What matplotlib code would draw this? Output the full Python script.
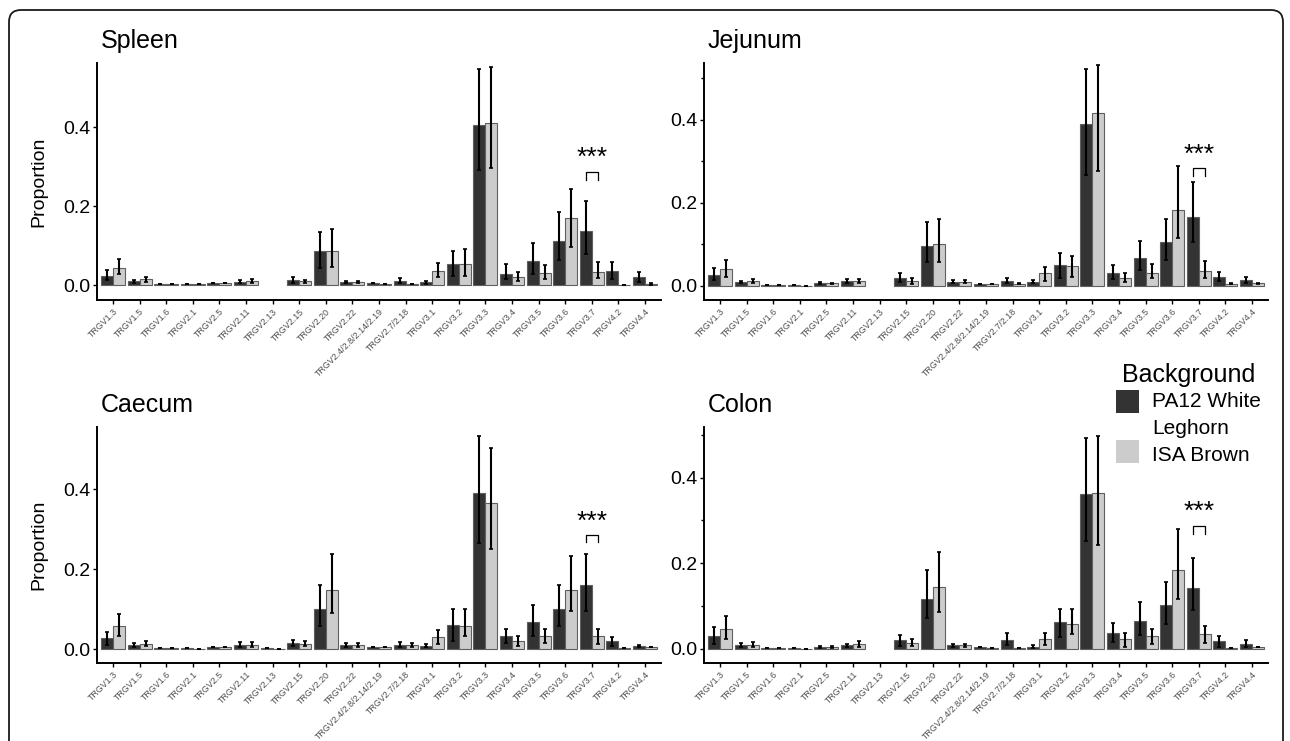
import numpy as np
import matplotlib.pyplot as plt
from matplotlib.patches import FancyBboxPatch, Rectangle
from matplotlib.transforms import IdentityTransform

plt.rcParams['font.family'] = ['Liberation Sans', 'DejaVu Sans']

genes = ['TRGV1.3', 'TRGV1.5', 'TRGV1.6', 'TRGV2.1', 'TRGV2.5', 'TRGV2.11', 'TRGV2.13',
         'TRGV2.15', 'TRGV2.20', 'TRGV2.22', 'TRGV2.4/2.8/2.14/2.19', 'TRGV2.7/2.18',
         'TRGV3.1', 'TRGV3.2', 'TRGV3.3', 'TRGV3.4', 'TRGV3.5', 'TRGV3.6', 'TRGV3.7',
         'TRGV4.2', 'TRGV4.4']
nan = np.nan

# spleen
spleen_pa12 = [0.025, 0.010, 0.004, 0.004, 0.006, 0.009, nan, 0.013, 0.086, 0.009, 0.005, 0.011,
               0.008, 0.053, 0.405, 0.030, 0.062, 0.112, 0.138, 0.037, 0.021]
spleen_pa12_lo = [0.013, 0.006, 0.004, 0.004, 0.006, 0.005, nan, 0.007, 0.045, 0.006, 0.005, 0.005,
                  0.004, 0.025, 0.292, 0.016, 0.030, 0.065, 0.079, 0.017, 0.008]
spleen_pa12_hi = [0.038, 0.014, 0.004, 0.004, 0.006, 0.013, nan, 0.020, 0.135, 0.012, 0.005, 0.018,
                  0.012, 0.088, 0.547, 0.055, 0.107, 0.187, 0.213, 0.059, 0.034]
spleen_isa = [0.045, 0.015, 0.004, 0.004, 0.005, 0.010, nan, 0.010, 0.087, 0.009, 0.004, 0.004,
              0.036, 0.055, 0.412, 0.020, 0.031, 0.170, 0.034, 0.002, 0.004]
spleen_isa_lo = [0.028, 0.009, 0.004, 0.004, 0.005, 0.006, nan, 0.006, 0.047, 0.006, 0.004, 0.004,
                 0.020, 0.025, 0.298, 0.010, 0.015, 0.097, 0.019, 0.002, 0.002]
spleen_isa_hi = [0.068, 0.022, 0.004, 0.004, 0.005, 0.015, nan, 0.014, 0.142, 0.012, 0.004, 0.004,
                 0.057, 0.092, 0.553, 0.034, 0.052, 0.244, 0.058, 0.002, 0.006]

# jejunum
jejunum_pa12 = [0.027, 0.009, 0.003, 0.002, 0.007, 0.012, nan, 0.020, 0.095, 0.010, 0.005, 0.012,
                0.010, 0.050, 0.390, 0.031, 0.067, 0.106, 0.166, 0.021, 0.014]
jejunum_pa12_lo = [0.014, 0.006, 0.003, 0.002, 0.005, 0.008, nan, 0.010, 0.058, 0.006, 0.005, 0.006,
                   0.006, 0.020, 0.268, 0.017, 0.038, 0.063, 0.105, 0.011, 0.007]
jejunum_pa12_hi = [0.042, 0.012, 0.003, 0.002, 0.009, 0.017, nan, 0.032, 0.153, 0.014, 0.005, 0.019,
                   0.015, 0.080, 0.523, 0.051, 0.109, 0.162, 0.250, 0.034, 0.022]
jejunum_isa = [0.040, 0.011, 0.003, 0.000, 0.006, 0.011, nan, 0.012, 0.100, 0.009, 0.004, 0.005,
               0.030, 0.048, 0.416, 0.020, 0.032, 0.184, 0.036, 0.005, 0.006]
jejunum_isa_lo = [0.022, 0.006, 0.003, 0.000, 0.005, 0.007, nan, 0.004, 0.058, 0.006, 0.004, 0.004,
                  0.012, 0.022, 0.278, 0.010, 0.018, 0.115, 0.020, 0.004, 0.005]
jejunum_isa_hi = [0.063, 0.017, 0.003, 0.000, 0.007, 0.016, nan, 0.018, 0.160, 0.013, 0.004, 0.006,
                  0.045, 0.072, 0.531, 0.032, 0.052, 0.290, 0.059, 0.006, 0.007]

# caecum
caecum_pa12 = [0.027, 0.010, 0.003, 0.002, 0.005, 0.011, 0.002, 0.015, 0.099, 0.010, 0.004, 0.011,
               0.008, 0.060, 0.390, 0.033, 0.067, 0.100, 0.159, 0.019, 0.008]
caecum_pa12_lo = [0.010, 0.006, 0.003, 0.002, 0.004, 0.005, 0.002, 0.008, 0.058, 0.006, 0.004, 0.005,
                  0.004, 0.019, 0.266, 0.015, 0.033, 0.058, 0.096, 0.008, 0.005]
caecum_pa12_hi = [0.042, 0.015, 0.003, 0.002, 0.006, 0.017, 0.002, 0.022, 0.160, 0.014, 0.004, 0.017,
                  0.013, 0.099, 0.533, 0.051, 0.110, 0.160, 0.238, 0.030, 0.011]
caecum_isa = [0.057, 0.013, 0.002, 0.000, 0.005, 0.011, 0.000, 0.013, 0.147, 0.010, 0.004, 0.009,
              0.029, 0.057, 0.364, 0.021, 0.033, 0.147, 0.033, 0.003, 0.005]
caecum_isa_lo = [0.033, 0.008, 0.002, 0.000, 0.004, 0.005, 0.000, 0.007, 0.090, 0.006, 0.004, 0.005,
                 0.013, 0.033, 0.249, 0.008, 0.015, 0.095, 0.012, 0.003, 0.005]
caecum_isa_hi = [0.088, 0.019, 0.002, 0.000, 0.006, 0.017, 0.000, 0.021, 0.238, 0.014, 0.004, 0.014,
                 0.047, 0.099, 0.502, 0.033, 0.051, 0.233, 0.051, 0.003, 0.005]

# colon
colon_pa12 = [0.031, 0.008, 0.003, 0.002, 0.004, 0.008, nan, 0.020, 0.116, 0.008, 0.004, 0.021,
              0.005, 0.062, 0.361, 0.037, 0.066, 0.102, 0.143, 0.018, 0.012]
colon_pa12_lo = [0.012, 0.004, 0.003, 0.002, 0.003, 0.004, nan, 0.006, 0.072, 0.004, 0.004, 0.009,
                 0.003, 0.028, 0.251, 0.015, 0.033, 0.057, 0.091, 0.005, 0.004]
colon_pa12_hi = [0.050, 0.013, 0.003, 0.002, 0.006, 0.012, nan, 0.033, 0.185, 0.012, 0.004, 0.036,
                 0.008, 0.094, 0.493, 0.060, 0.110, 0.156, 0.211, 0.030, 0.020]
colon_isa = [0.046, 0.010, 0.002, 0.000, 0.004, 0.011, nan, 0.014, 0.144, 0.008, 0.003, 0.003,
             0.022, 0.057, 0.365, 0.022, 0.029, 0.185, 0.035, 0.003, 0.005]
colon_isa_lo = [0.022, 0.005, 0.002, 0.000, 0.003, 0.005, nan, 0.006, 0.087, 0.004, 0.003, 0.003,
                0.010, 0.034, 0.243, 0.004, 0.011, 0.117, 0.013, 0.003, 0.005]
colon_isa_hi = [0.077, 0.017, 0.002, 0.000, 0.006, 0.018, nan, 0.023, 0.226, 0.012, 0.003, 0.003,
                0.037, 0.092, 0.498, 0.036, 0.047, 0.279, 0.054, 0.003, 0.005]

tissues = ['Spleen', 'Jejunum', 'Caecum', 'Colon']
sig_gene = 'TRGV3.7'
star_y = [0.322, 0.316, 0.319, 0.320]
bracket_y = [0.286, 0.283, 0.286, 0.287]

W, H = 1290, 741
fig = plt.figure(figsize=(W / 100, H / 100), dpi=100)

# journal-style rounded frame
frame = FancyBboxPatch((9, -30), 1274, 761, boxstyle='round,pad=0,rounding_size=12',
                       transform=IdentityTransform(), fill=False, ec='#1a1a1a', lw=1.3)
fig.add_artist(frame)

# pixel boxes: left, top, right, bottom
boxes = [(97, 63, 661, 300), (704, 63, 1268, 300), (97, 427, 661, 663), (704, 427, 1268, 663)]
ylims = [(-0.037, 0.563), (-0.034, 0.537), (-0.035, 0.555), (-0.033, 0.518)]
data = [
    (spleen_pa12, spleen_pa12_lo, spleen_pa12_hi, spleen_isa, spleen_isa_lo, spleen_isa_hi),
    (jejunum_pa12, jejunum_pa12_lo, jejunum_pa12_hi, jejunum_isa, jejunum_isa_lo, jejunum_isa_hi),
    (caecum_pa12, caecum_pa12_lo, caecum_pa12_hi, caecum_isa, caecum_isa_lo, caecum_isa_hi),
    (colon_pa12, colon_pa12_lo, colon_pa12_hi, colon_isa, colon_isa_lo, colon_isa_hi),
]

dark, light = '#333333', '#cccccc'
x = np.arange(len(genes))
bw = 0.45

for i, (name, box) in enumerate(zip(tissues, boxes)):
    l, t, r, b = box
    ax = fig.add_axes([l / W, 1 - b / H, (r - l) / W, (b - t) / H])
    for j, (col, off) in enumerate([(dark, -bw / 2), (light, bw / 2)]):
        m = np.array(data[i][3 * j], dtype=float)
        lo = np.array(data[i][3 * j + 1], dtype=float)
        hi = np.array(data[i][3 * j + 2], dtype=float)
        ax.bar(x + off, m, width=bw, color=col, edgecolor='#5f5f5f', linewidth=0.8, zorder=2)
        ax.errorbar(x + off, m, yerr=[m - lo, hi - m], fmt='none', ecolor='black',
                    elinewidth=1.5, capsize=1.3, capthick=1.2, zorder=3)

    k = genes.index(sig_gene)
    ax.plot([k - bw / 2, k - bw / 2, k + bw / 2, k + bw / 2],
            [bracket_y[i] - 0.018, bracket_y[i], bracket_y[i], bracket_y[i] - 0.018],
            color='black', lw=0.9, zorder=3)
    ax.text(k, star_y[i], '***', ha='center', va='center', fontsize=19)

    ax.set_xlim(-0.6, len(genes) - 0.4)
    ax.set_ylim(*ylims[i])
    ax.set_xticks(x)
    ax.set_xticklabels(genes, rotation=45, ha='right', rotation_mode='anchor',
                       fontsize=6.4, color='#4d4d4d')
    ax.set_yticks([0, 0.2, 0.4])
    ax.set_yticklabels(['0.0', '0.2', '0.4'], fontsize=14)
    if i % 2 == 1:
        ax.set_yticks([0.1, 0.3, 0.5], minor=True)
        ax.tick_params(axis='y', which='minor', length=2.5, width=1)
    for s in ['top', 'right']:
        ax.spines[s].set_visible(False)
    for s in ['left', 'bottom']:
        ax.spines[s].set_linewidth(1.4)
    ax.tick_params(axis='both', which='major', length=3, width=1, pad=2)

    fig.text((l + 4) / W, 1 - (t - 15) / H, name, fontsize=18, va='baseline', ha='left')
    if i % 2 == 0:
        fig.text(39 / W, 1 - ((t + b) / 2) / H, 'Proportion', rotation=90,
                 fontsize=14, ha='center', va='center')

# legend
fig.text(1122 / W, 1 - 382 / H, 'Background', fontsize=18, va='baseline')
fig.add_artist(Rectangle((1116 / W, 1 - 413 / H), 23 / W, 23 / H, transform=fig.transFigure,
                         facecolor=dark, edgecolor='none'))
fig.add_artist(Rectangle((1116 / W, 1 - 463 / H), 23 / W, 23 / H, transform=fig.transFigure,
                         facecolor=light, edgecolor='none'))
fig.text(1152 / W, 1 - 407 / H, 'PA12 White', fontsize=15, va='baseline')
fig.text(1152 / W, 1 - 434 / H, 'Leghorn', fontsize=15, va='baseline')
fig.text(1152 / W, 1 - 461 / H, 'ISA Brown', fontsize=15, va='baseline')

fig.savefig('out.png', dpi=100)
